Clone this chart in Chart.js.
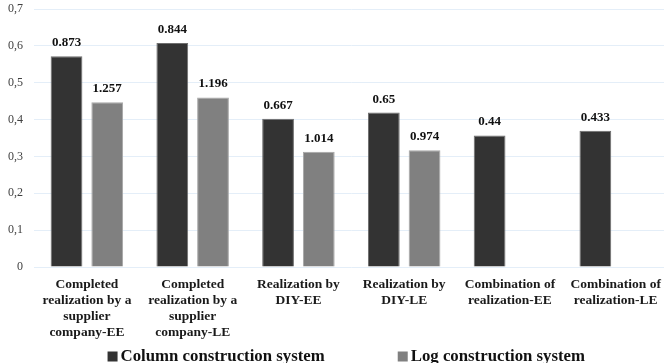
<!DOCTYPE html>
<html>
<head>
<meta charset="utf-8">
<script src="https://cdn.jsdelivr.net/npm/chart.js@4.4.1/dist/chart.umd.min.js"></script>
<style>
  html, body { margin: 0; padding: 0; background: #fff; overflow: hidden; }
  #wrap { position: relative; width: 671px; height: 363px; }
</style>
</head>
<body>
<div id="wrap"><canvas id="chart"></canvas></div>
<script>
// Categories (multi-line axis labels)
const categories = [
  ["Completed", "realization by a", "supplier", "company-EE"],
  ["Completed", "realization by a", "supplier", "company-LE"],
  ["Realization by", "DIY-EE"],
  ["Realization by", "DIY-LE"],
  ["Combination of", "realization-EE"],
  ["Combination of", "realization-LE"]
];

// Bar heights per construction system
const columnValues = [0.572, 0.608, 0.402, 0.419, 0.357, 0.370];
const logValues    = [0.447, 0.460, 0.313, 0.317, null, null];

// Figures printed above each bar
const columnLabels = ["0.873", "0.844", "0.667", "0.65", "0.44", "0.433"];
const logLabels    = ["1.257", "1.196", "1.014", "0.974", null, null];

const seriesNames = ["Column construction system", "Log construction system"];

const SERIF = "'Liberation Serif', 'Times New Roman', serif";

// Text figures above the bars
const barTextPlugin = {
  id: 'barText',
  afterDatasetsDraw(chart) {
    const ctx = chart.ctx;
    const texts = [columnLabels, logLabels];
    ctx.save();
    ctx.font = "bold 13px " + SERIF;
    ctx.fillStyle = '#111';
    ctx.textAlign = 'center';
    ctx.textBaseline = 'alphabetic';
    chart.data.datasets.forEach((ds, di) => {
      const meta = chart.getDatasetMeta(di);
      meta.data.forEach((bar, i) => {
        const t = texts[di][i];
        if (t == null || ds.data[i] == null) return;
        ctx.fillText(t, bar.x, bar.y - 10);
      });
    });
    ctx.restore();
  }
};

// Wide-spaced legend along the bottom edge
const bottomLegendPlugin = {
  id: 'bottomLegend',
  afterDraw(chart) {
    const ctx = chart.ctx;
    const box = 10, gapBoxText = 3, gapItems = 73;
    ctx.save();
    ctx.font = "bold 16.8px " + SERIF;
    const widths = seriesNames.map(n => ctx.measureText(n).width);
    const total = widths.reduce((a, w) => a + box + gapBoxText + w, 0) + gapItems;
    const center = (chart.chartArea.left + chart.chartArea.right) / 2 - 5;
    let x = center - total / 2;
    const yMid = chart.height - 6.5;
    chart.data.datasets.forEach((ds, i) => {
      ctx.fillStyle = ds.backgroundColor;
      ctx.fillRect(x, yMid - box / 2, box, box);
      x += box + gapBoxText;
      ctx.fillStyle = '#111';
      ctx.textBaseline = 'middle';
      ctx.textAlign = 'left';
      ctx.fillText(seriesNames[i], x, yMid);
      x += widths[i] + gapItems;
    });
    ctx.restore();
  }
};

new Chart(document.getElementById('chart'), {
  type: 'bar',
  data: {
    labels: categories,
    datasets: [
      {
        label: seriesNames[0],
        data: columnValues,
        backgroundColor: '#333333',
        borderColor: '#6e6e6e',
        borderWidth: 1,
        barPercentage: 0.78,
        categoryPercentage: 0.77
      },
      {
        label: seriesNames[1],
        data: logValues,
        backgroundColor: '#808080',
        borderColor: '#a6a6a6',
        borderWidth: 1,
        barPercentage: 0.78,
        categoryPercentage: 0.77
      }
    ]
  },
  options: {
    responsive: true,
    maintainAspectRatio: false,
    animation: false,
    layout: { padding: { top: 9, right: 1, left: 0, bottom: 12 } },
    plugins: {
      legend: { display: false },
      tooltip: { enabled: false }
    },
    scales: {
      x: {
        grid: { display: false, drawTicks: false },
        border: { display: false },
        ticks: {
          autoSkip: false,
          maxRotation: 0,
          minRotation: 0,
          padding: 10,
          color: '#1a1a1a',
          font: { family: SERIF, size: 13.5, weight: 'bold', lineHeight: '16px' }
        }
      },
      y: {
        min: 0,
        max: 0.7,
        afterFit(scale) { scale.width = 34; scale.paddingTop = 0; },
        grid: { color: '#e4eef8', lineWidth: 1, drawTicks: false },
        border: { display: false },
        ticks: {
          stepSize: 0.1,
          padding: 11,
          color: '#404040',
          font: { family: SERIF, size: 12 },
          callback: v => v === 0 ? '0' : v.toFixed(1).replace('.', ',')
        }
      }
    }
  },
  plugins: [barTextPlugin, bottomLegendPlugin]
});
</script>
</body>
</html>
